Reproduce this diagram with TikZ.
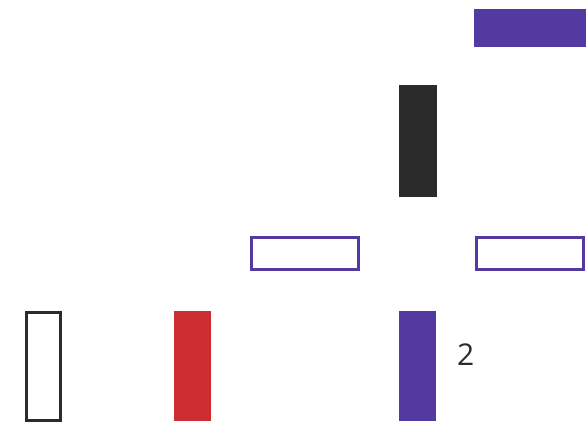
\documentclass[tikz,border=0pt]{standalone}
\usepackage{fontspec}
\setmainfont{Open Sans}
\definecolor{vpurple}{RGB}{84,57,160}
\definecolor{vred}{RGB}{204,45,48}
\definecolor{vdark}{RGB}{43,43,43}
\begin{document}
\begin{tikzpicture}[x=1pt,y=-1pt,
  filledbar/.style={draw=none},
  outlinebar/.style={line width=3pt}]
\useasboundingbox[fill=white] (0,0) rectangle (587,424);
% top purple filled
\fill[vpurple] (474,9) rectangle (586,47);
% black filled
\fill[vdark] (399,85) rectangle (437,197);
% outline purple rectangles
\draw[vpurple,outlinebar] (251.5,237.5) rectangle (358.5,269.5);
\draw[vpurple,outlinebar] (476.5,237.5) rectangle (583.5,269.5);
% bottom row
\draw[vdark,outlinebar] (26,312) rectangle (60,420);
\fill[vred] (174,311) rectangle (211,421);
\fill[vpurple] (399,311) rectangle (436,421);
\node[anchor=base west,inner sep=0pt,text=vdark,font=\fontsize{30}{36}\selectfont] (two) at (457,365) {2};
\end{tikzpicture}
\end{document}
